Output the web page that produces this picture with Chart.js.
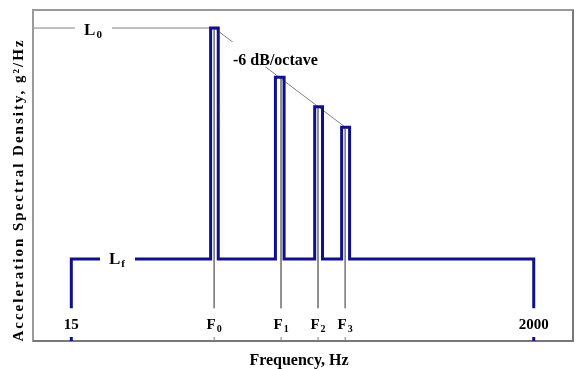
<!DOCTYPE html>
<html>
<head>
<meta charset="utf-8">
<script src="https://cdn.jsdelivr.net/npm/chart.js@4"></script>
<style>
  html, body { margin: 0; padding: 0; background: #fff; }
  canvas { display: block; }
</style>
</head>
<body>
<canvas id="psdChart" width="578" height="369"></canvas>
<script>
// Datos (niveles en dB relativos a Lf)
var tickFreqs = [15, 68, 138, 204, 272, 2000];
var tickNames = ['15', 'F', 'F', 'F', 'F', '2000'];
var tickSubs = ['', '0', '1', '2', '3', ''];
var barLow = [65.5, 130, 197, 262];
var barHigh = [71, 142.5, 214, 285];
var peakLevels = [28.2, 22.2, 18.6, 16.1];
var floorLevel = 0;
var lineEndLevel = -6;

var NAVY = '#10108a';
var GRAY = '#808080';
var FONT = '"Liberation Serif", "Times New Roman", serif';

// Trazo escalonado: piso Lf con los cuatro picos
var stepPts = [{ x: tickFreqs[0], y: lineEndLevel }, { x: tickFreqs[0], y: floorLevel }];
for (var i = 0; i < barLow.length; i++) {
    stepPts.push({ x: barLow[i], y: floorLevel });
    stepPts.push({ x: barLow[i], y: peakLevels[i] });
    stepPts.push({ x: barHigh[i], y: peakLevels[i] });
    stepPts.push({ x: barHigh[i], y: floorLevel });
}
stepPts.push({ x: tickFreqs[5], y: floorLevel });
stepPts.push({ x: tickFreqs[5], y: lineEndLevel });

// Lineas grises de referencia en F0..F3
var refSets = [];
for (var j = 0; j < peakLevels.length; j++) {
    refSets.push({
        data: [{ x: tickFreqs[j + 1], y: peakLevels[j] }, { x: tickFreqs[j + 1], y: lineEndLevel }],
        borderColor: GRAY, borderWidth: 1, pointRadius: 0, order: 2
    });
}
refSets.push({
    data: [{ x: 10, y: peakLevels[0] }, { x: barLow[0], y: peakLevels[0] }],
    borderColor: GRAY, borderWidth: 1, pointRadius: 0, order: 2
});
refSets.push({
    data: [{ x: tickFreqs[1], y: peakLevels[0] }, { x: tickFreqs[4], y: peakLevels[3] }],
    borderColor: GRAY, borderWidth: 1, pointRadius: 0, order: 2
});

function drawSub(ctx, main, sub, cx, base, size) {
    ctx.font = 'bold ' + size + 'px ' + FONT;
    var w1 = ctx.measureText(main).width;
    ctx.font = 'bold ' + Math.round(size * 0.65) + 'px ' + FONT;
    var w2 = sub ? ctx.measureText(sub).width + 1 : 0;
    var x0 = cx - (w1 + w2) / 2;
    ctx.textAlign = 'left';
    ctx.textBaseline = 'alphabetic';
    ctx.font = 'bold ' + size + 'px ' + FONT;
    ctx.fillText(main, x0, base);
    if (sub) {
        ctx.font = 'bold ' + Math.round(size * 0.65) + 'px ' + FONT;
        ctx.fillText(sub, x0 + w1 + 1, base + 3);
    }
}

var decorPlugin = {
    id: 'decor',
    afterDatasetsDraw: function(chart) {
        var ctx = chart.ctx;
        var xs = chart.scales.x, ys = chart.scales.y;
        var a = chart.chartArea;
        var yL0 = ys.getPixelForValue(peakLevels[0]);
        var yLf = ys.getPixelForValue(floorLevel);
        ctx.save();

        // huecos para las etiquetas
        ctx.fillStyle = '#fff';
        ctx.fillRect(a.left + 42, yL0 - 6, 37, 12);
        ctx.fillRect(a.left + 67, yLf - 6, 35, 12);
        ctx.fillRect(229, 42, 98, 25);

        ctx.fillStyle = '#000';
        drawSub(ctx, 'L', '0', a.left + 60, yL0 + 7, 17);
        drawSub(ctx, 'L', 'f', a.left + 84, yLf + 5, 17);

        ctx.font = 'bold 16px ' + FONT;
        ctx.textAlign = 'left';
        ctx.textBaseline = 'alphabetic';
        ctx.fillText('-6 dB/octave', 233, 65);

        // etiquetas de frecuencia dentro del marco
        for (var k = 0; k < tickFreqs.length; k++) {
            drawSub(ctx, tickNames[k], tickSubs[k], xs.getPixelForValue(tickFreqs[k]), a.bottom - 12, 15);
        }

        // marco
        ctx.strokeStyle = '#9a9a9a';
        ctx.lineWidth = 2;
        ctx.strokeRect(a.left, a.top, a.right - a.left, a.bottom - a.top);
        ctx.strokeStyle = '#6e6e6e';
        ctx.lineWidth = 1.5;
        ctx.beginPath();
        ctx.moveTo(a.right, a.top);
        ctx.lineTo(a.right, a.bottom);
        ctx.lineTo(a.left, a.bottom);
        ctx.stroke();

        // marcas inferiores
        for (var m = 0; m < tickFreqs.length; m++) {
            var px = xs.getPixelForValue(tickFreqs[m]);
            var edge = (m === 0 || m === tickFreqs.length - 1);
            ctx.strokeStyle = edge ? NAVY : GRAY;
            ctx.lineWidth = edge ? 3 : 1;
            ctx.beginPath();
            ctx.moveTo(px, a.bottom - 4);
            ctx.lineTo(px, a.bottom);
            ctx.stroke();
        }

        // titulos de los ejes
        ctx.fillStyle = '#000';
        ctx.font = 'bold 16px ' + FONT;
        ctx.textAlign = 'center';
        ctx.textBaseline = 'alphabetic';
        ctx.fillText('Frequency, Hz', 299, 365);

        ctx.translate(23, 190);
        ctx.rotate(-Math.PI / 2);
        ctx.font = 'bold 15px ' + FONT;
        ctx.letterSpacing = '2px';
        ctx.fillText('Acceleration Spectral Density, g\u00b2/Hz', 0, 0);
        ctx.restore();
    }
};

var ctx = document.getElementById('psdChart').getContext('2d');
var psdChart = new Chart(ctx, {
    type: 'line',
    data: {
        datasets: [{
            data: stepPts,
            borderColor: NAVY,
            borderWidth: 3,
            pointRadius: 0,
            borderJoinStyle: 'miter',
            order: 1
        }].concat(refSets)
    },
    options: {
        responsive: false,
        animation: false,
        layout: { padding: { left: 33, right: 5, top: 10, bottom: 28 } },
        plugins: { legend: { display: false }, tooltip: { enabled: false } },
        elements: { line: { tension: 0 } },
        scales: {
            x: { type: 'logarithmic', min: 10, max: 3030, display: false },
            y: { type: 'linear', min: -10, max: 30.4, display: false }
        }
    },
    plugins: [decorPlugin]
});
</script>
</body>
</html>
